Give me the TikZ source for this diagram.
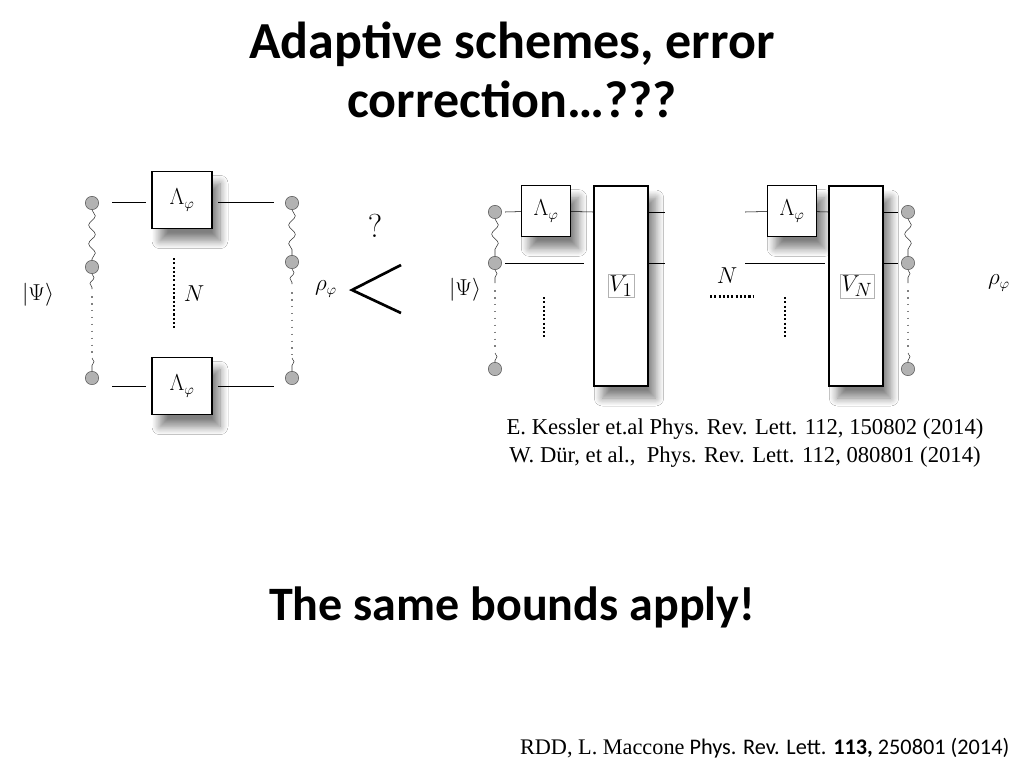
\documentclass[tikz,border=0pt]{standalone}
\usepackage{fontspec}
\setmainfont{Carlito}
\newfontfamily\timesf{Liberation Serif}
\usetikzlibrary{shadows.blur,decorations.pathmorphing}
\begin{document}
\begin{tikzpicture}[x=0.75pt,y=-0.75pt,
  qb/.style={circle,draw=gray!70!black,fill=gray!60,minimum width=9pt,minimum height=10pt,inner sep=0pt},
  gate/.style={draw,thick,fill=white,blur shadow={shadow xshift=6pt,shadow yshift=-9pt,shadow blur radius=6pt,shadow blur steps=10,shadow opacity=50},inner sep=0pt},
  wire/.style={draw,thin},
  wavy/.style={draw=gray!40!black,decorate,decoration={snake,amplitude=2.5pt,segment length=14pt}},
  swavy/.style={draw=gray!40!black,decorate,decoration={snake,amplitude=1.5pt,segment length=9pt}},
  gdots/.style={draw=gray,line width=1.2pt,dash pattern=on 1.2pt off 4pt},
  bdots/.style={draw,line width=2pt,dash pattern=on 1.6pt off 1.6pt},
  mlab/.style={font=\fontsize{19}{22}\selectfont},
  slab/.style={font=\fontsize{16}{19}\selectfont}]
\useasboundingbox (0,0) rectangle (1024,768);
\fill[white] (0,0) rectangle (1024,768);
\node[font=\bfseries\fontsize{39}{44}\selectfont,align=center] (title) at (512,70) {Adaptive schemes, error\\correction…???};
% left diagram
\node[qb] (l1) at (92,203) {}; \node[qb] (l2) at (92,267) {}; \node[qb] (l3) at (92,378) {};
\draw[wavy] (l1) -- (l2);
\draw[swavy] (l2) -- (92,289);
\draw[gdots] (92,296) -- (92,355);
\draw[swavy] (92,358) -- (l3);
\node[gate,minimum width=45pt,minimum height=43pt,slab] (g1) at (182,200) {$\Lambda_\varphi$};
\node[gate,minimum width=45pt,minimum height=43pt,slab] (g2) at (182,386) {$\Lambda_\varphi$};
\coordinate (a1) at (112,202); \coordinate (a2) at (112,386);
\coordinate (b1) at (274,202); \coordinate (b2) at (274,386);
\draw[wire] (a1) -- (146,202); \draw[wire] (a2) -- (146,386);
\draw[wire] (218,202) -- (b1); \draw[wire] (218,386) -- (b2);
\node[qb] (r1) at (292,203) {}; \node[qb] (r2) at (292,262) {}; \node[qb] (r3) at (292,378) {};
\draw[wavy] (r1) -- (r2);
\draw[swavy] (r2) -- (292,284);
\draw[gdots] (292,292) -- (292,355);
\draw[swavy] (292,358) -- (r3);
\draw[bdots] (174,258) -- (174,330);
\node[mlab] (nl) at (194,294) {$N$};
\node[mlab] (psil) at (38,295) {$|\Psi\rangle$};
\node[slab] (rhol) at (326,289) {$\rho_\varphi$};
\node[font=\fontsize{34}{34}\selectfont] (q) at (375,226) {$?$};
\draw[line width=2pt] (401,265) -- (352,290) -- (401,313);
% right diagram
\node[qb] (m1) at (495,212) {}; \node[qb] (m2) at (495,263) {}; \node[qb] (m3) at (495,369) {};
\draw[wavy] (m1) -- (m2);
\draw[swavy] (m2) -- (495,283);
\draw[gdots] (495,290) -- (495,350);
\draw[swavy] (495,353) -- (m3);
\node[gate,thin,minimum width=37pt,minimum height=38pt,slab] (la1) at (546,211) {$\Lambda_\varphi$};
\node[gate,line width=1.5pt,minimum width=40pt,minimum height=150pt] (v1) at (621,286) {};
\node[draw=gray!60,inner sep=1pt,mlab] (v1l) at (621,286) {$V_1$};
\node[gate,thin,minimum width=37pt,minimum height=38pt,slab] (la2) at (792,211) {$\Lambda_\varphi$};
\node[gate,line width=1.5pt,minimum width=40pt,minimum height=150pt] (vn) at (856,286) {};
\node[draw=gray!60,inner sep=1pt,mlab] (vnl) at (857,286) {$V_N$};
\draw[wire] (505,212) -- (la1); \draw[wire] (la1) -- (v1.west |- 0,212);
\draw[wire] (v1.east |- 0,212) -- (665,212);
\draw[wire] (505,263) -- (584,263); \draw[wire] (v1.east |- 0,263) -- (665,263);
\draw[wire] (745,212) -- (la2); \draw[wire] (la2) -- (vn.west |- 0,212);
\draw[wire] (745,263) -- (825,263);
\draw[wire] (vn.east |- 0,212) -- (898,212); \draw[wire] (vn.east |- 0,263) -- (898,263);
\node[qb] (n1) at (908,212) {}; \node[qb] (n2) at (908,263) {}; \node[qb] (n3) at (908,369) {};
\draw[wavy] (n1) -- (n2);
\draw[swavy] (n2) -- (908,283);
\draw[gdots] (908,290) -- (908,350);
\draw[swavy] (908,353) -- (n3);
\draw[bdots] (544,297) -- (544,337);
\draw[bdots] (785,297) -- (785,337);
\draw[bdots,line width=1.8pt] (710,296.5) -- (753,296.5);
\node[mlab] (nr) at (727,276) {$N$};
\node[mlab] (psir) at (465,290) {$|\Psi\rangle$};
\node[slab] (rhor) at (999,283) {$\rho_\varphi$};
% references
\node[font=\timesf\fontsize{17}{20.5}\selectfont,align=center] (refs) at (745,443) {E. Kessler et.al Phys. Rev. Lett. 112, 150802 (2014)\\W. Dür, et al.,\ \ Phys. Rev. Lett. 112, 080801 (2014)};
\node[font=\bfseries\fontsize{36}{40}\selectfont] (same) at (512,607) {The same bounds apply!};
\node[anchor=east,font=\fontsize{16.7}{20}\selectfont] (rdd) at (1014,748) {{\timesf RDD, L. Maccone} Phys. Rev. Lett. \textbf{113,} 250801 (2014)};
\end{tikzpicture}
\end{document}
